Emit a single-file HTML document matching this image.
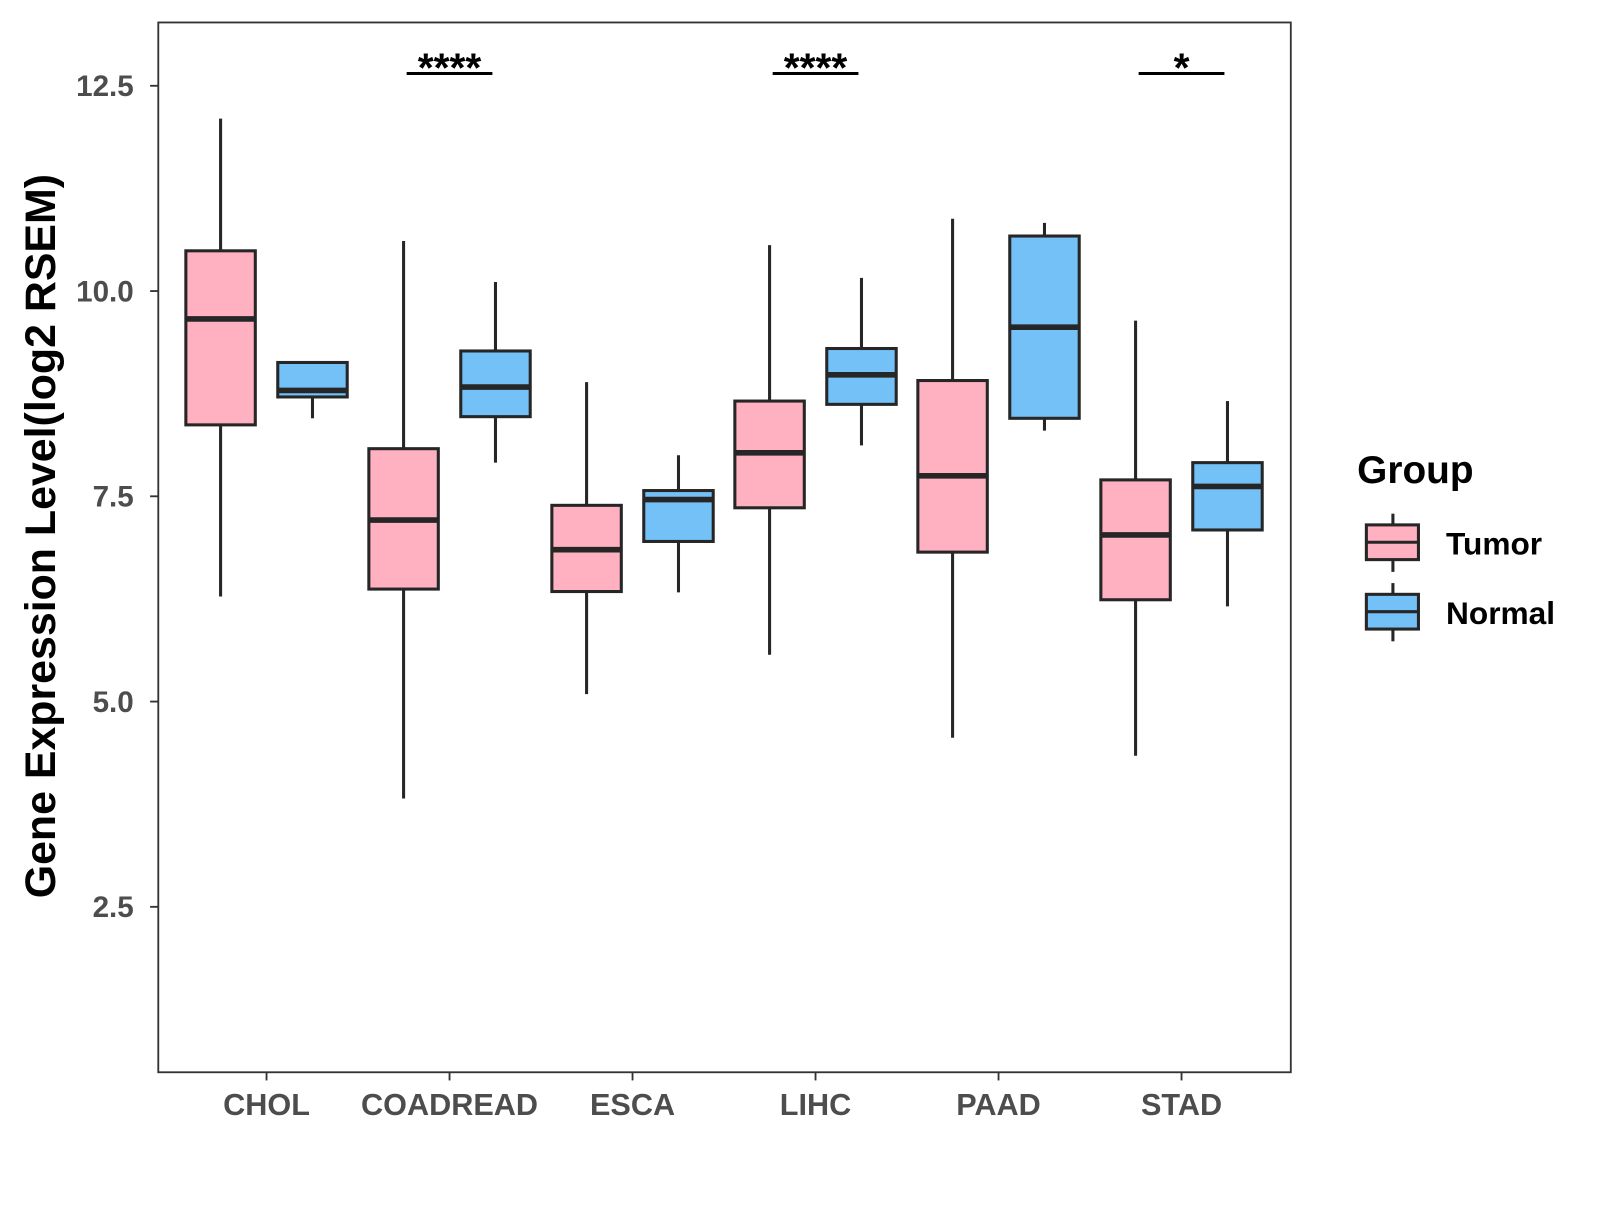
<!DOCTYPE html>
<html><head><meta charset="utf-8"><style>
body{margin:0;background:#fff;width:1600px;height:1200px;overflow:hidden}
text{font-family:"Liberation Sans",Arial,sans-serif;font-weight:bold}
</style></head><body>
<svg id="chart" width="1600" height="1200" xmlns="http://www.w3.org/2000/svg">
<rect x="0" y="0" width="1600" height="1200" fill="#fff"/>
<g transform="scale(1.0212)">
<rect x="155" y="22" width="1109" height="1028" fill="#fff" stroke="#333" stroke-width="1.8"/>
<g id="marks"></g>
<text transform="translate(54,525) rotate(-90)" text-anchor="middle" font-size="42" fill="#000">Gene Expression Level(log2 RSEM)</text>
<g>
<text x="1329" y="473" font-size="38" fill="#000">Group</text>
<g>
<line x1="1364" y1="503" x2="1364" y2="514" stroke="#262626" stroke-width="3"/>
<line x1="1364" y1="548" x2="1364" y2="560" stroke="#262626" stroke-width="3"/>
<rect x="1338" y="514" width="51" height="34" fill="#FFB0C1" stroke="#262626" stroke-width="3"/>
<line x1="1338" y1="531" x2="1389" y2="531" stroke="#262626" stroke-width="3"/>
<text x="1416" y="543" font-size="31" fill="#000">Tumor</text>
</g>
<g>
<line x1="1364" y1="571" x2="1364" y2="582" stroke="#262626" stroke-width="3"/>
<line x1="1364" y1="616" x2="1364" y2="628" stroke="#262626" stroke-width="3"/>
<rect x="1338" y="582" width="51" height="34" fill="#74C1F7" stroke="#262626" stroke-width="3"/>
<line x1="1338" y1="599" x2="1389" y2="599" stroke="#262626" stroke-width="3"/>
<text x="1416" y="611" font-size="31" fill="#000">Normal</text>
</g>
</g>
</g>
</svg>
<script>
const categories=["CHOL","COADREAD","ESCA","LIHC","PAAD","STAD"];
// [low, q1, median, q3, high]
const tumorStats=[[6.28,8.37,9.66,10.49,12.10],[3.82,6.37,7.21,8.08,10.61],[5.09,6.34,6.85,7.39,8.89],[5.57,7.36,8.03,8.66,10.56],[4.56,6.82,7.75,8.91,10.88],[4.34,6.24,7.03,7.70,9.64]];
const normalStats=[[8.45,8.71,8.79,9.13,9.13],[7.91,8.47,8.83,9.27,10.11],[6.33,6.95,7.46,7.57,8.00],[8.12,8.62,8.98,9.30,10.16],[8.30,8.45,9.56,10.67,10.83],[6.16,7.09,7.62,7.91,8.66]];
const signif=["","****","","****","","*"];
const yTicks=[2.5,5.0,7.5,10.0,12.5];
const yTickLabels=["2.5","5.0","7.5","10.0","12.5"];

const NS="http://www.w3.org/2000/svg";
const g=document.getElementById('marks');
const Y=v=>84+(12.5-v)*80.4;
const X=i=>261+i*179.2;
function mk(tag,attrs,parent){const e=document.createElementNS(NS,tag);for(const k in attrs)e.setAttribute(k,attrs[k]);(parent||g).appendChild(e);return e;}
yTicks.forEach((t,i)=>{
  const tk=mk('line',{x1:147,x2:155,y1:Y(t),y2:Y(t),stroke:'#333','stroke-width':1.8});
  
  
  const tl=mk('text',{x:131,y:Y(t)+10,'text-anchor':'end','font-size':29,fill:'#4d4d4d'});
  tl.textContent=yTickLabels[i];
  
  
});
categories.forEach((c,i)=>{
  const tk=mk('line',{x1:X(i),x2:X(i),y1:1050,y2:1058,stroke:'#333','stroke-width':1.8});
  
  
  const tl=mk('text',{x:X(i),y:1092,'text-anchor':'middle','font-size':30,fill:'#4d4d4d'});
  tl.textContent=c;
  
  
  [[tumorStats[i],-45,'#FFB0C1','tumor'],[normalStats[i],45,'#74C1F7','normal']].forEach(([s,off,col,nm])=>{
    const cx=X(i)+off;
    const bg=mk('g',{});
    
    
    mk('line',{x1:cx,x2:cx,y1:Y(s[4]),y2:Y(s[3]),stroke:'#262626','stroke-width':3},bg);
    mk('line',{x1:cx,x2:cx,y1:Y(s[1]),y2:Y(s[0]),stroke:'#262626','stroke-width':3},bg);
    mk('rect',{x:cx-34,y:Y(s[3]),width:68,height:Y(s[1])-Y(s[3]),fill:col,stroke:'#262626','stroke-width':3},bg);
    mk('line',{x1:cx-34,x2:cx+34,y1:Y(s[2]),y2:Y(s[2]),stroke:'#262626','stroke-width':5.5},bg);
  });
  if(signif[i]){
    const sl=mk('line',{x1:X(i)-42,x2:X(i)+42,y1:72,y2:72,stroke:'#000','stroke-width':3});
    
    
    const st=mk('text',{x:X(i),y:80,'text-anchor':'middle','font-size':40,fill:'#000'});
    st.textContent=signif[i];
    
    
  }
});
</script>
</body></html>
